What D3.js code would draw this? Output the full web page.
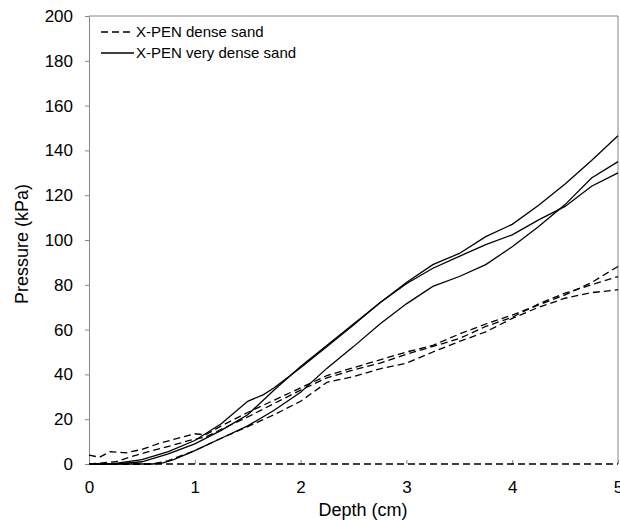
<!DOCTYPE html>
<html>
<head>
<meta charset="utf-8">
<script src="https://cdn.jsdelivr.net/npm/d3@7"></script>
<style>
  html, body { margin: 0; padding: 0; background: #fff; }
  svg { display: block; font-family: "Liberation Sans", Arial, sans-serif; }
</style>
</head>
<body>
<svg id="chart" width="620" height="520"></svg>
<script>
// ---- Data (Depth in cm, Pressure in kPa) ----
const xTicks = [0, 1, 2, 3, 4, 5];
const yTicks = [0, 20, 40, 60, 80, 100, 120, 140, 160, 180, 200];
const legendLabels = ["X-PEN dense sand", "X-PEN very dense sand"];

// Dense sand (dashed)
const dense1 = [[0,4],[0.1,3],[0.2,5.5],[0.35,5],[0.5,6.5],[0.65,9],[0.8,11],[1.0,13.5],[1.1,13],[1.25,17],[1.5,23],[1.75,28.5],[2.0,34],[2.25,39.5],[2.5,43],[2.75,46.5],[3.0,50],[3.25,53],[3.5,58],[3.75,62.5],[4.0,66.5],[4.25,71],[4.5,75.5],[4.75,81],[5.0,88.2]];
const dense2 = [[0,0],[0.25,1],[0.45,4],[0.6,6],[0.8,8.5],[0.95,10.5],[1.1,12],[1.25,15.5],[1.5,21],[1.75,27],[2.0,33],[2.25,38.5],[2.5,42],[2.75,45],[3.0,49],[3.25,52.5],[3.5,56],[3.75,61.4],[4.0,65.5],[4.25,71.5],[4.5,76.3],[4.75,80],[5.0,83.7]];
const dense3 = [[0,0],[0.6,0],[0.75,1.5],[1.0,6],[1.25,11.5],[1.5,16.7],[1.75,22],[2.0,28],[2.25,36.5],[2.5,39],[2.75,42.5],[3.0,45],[3.25,50],[3.5,54.7],[3.75,59],[4.0,65],[4.25,70],[4.5,74],[4.75,76.5],[5.0,77.8]];
const dense4 = [[0,0],[5,0]];

// Very dense sand (solid)
const vdense1 = [[0,0],[0.25,0],[0.5,1],[0.75,4.5],[1.0,9],[1.25,15],[1.5,22],[1.75,33],[2.0,43.5],[2.25,53],[2.5,62.5],[2.75,72],[3.0,81],[3.25,89],[3.5,94],[3.75,101.5],[4.0,107],[4.25,115.5],[4.5,125],[4.75,135.5],[5.0,146.5]];
const vdense2 = [[0,0],[0.25,0.3],[0.5,2],[0.75,5.5],[1.0,10.5],[1.25,18],[1.5,28],[1.65,31],[1.75,34],[2.0,43],[2.25,52.5],[2.5,62],[2.75,72],[3.0,80.5],[3.25,87.4],[3.5,92.7],[3.75,97.9],[4.0,102.3],[4.25,109],[4.5,115],[4.75,124],[5.0,130]];
const vdense3 = [[0,0],[0.6,0],[0.7,0.5],[0.8,2],[1.0,6],[1.25,11.5],[1.5,17],[1.75,24],[2.0,32],[2.25,42.8],[2.5,52.4],[2.75,62.5],[3.0,71.5],[3.25,79.3],[3.5,83.7],[3.75,89],[4.0,97],[4.25,106],[4.5,115.8],[4.75,127.7],[5.0,135]];

const denseSeries = [dense1, dense2, dense3, dense4];
const veryDenseSeries = [vdense1, vdense2, vdense3];

// ---- Layout ----
const svg = d3.select("#chart");
const x = d3.scaleLinear().domain([0, 5]).range([89, 618]);
const y = d3.scaleLinear().domain([0, 200]).range([464, 16]);
const axisColor = "#868686";
const dash = "7,4";

// Frame (top and right)
svg.append("line").attr("x1", x(0)).attr("x2", x(5)).attr("y1", y(200)).attr("y2", y(200))
  .attr("stroke", axisColor).attr("stroke-width", 1);
svg.append("line").attr("x1", x(5)).attr("x2", x(5)).attr("y1", y(200)).attr("y2", y(0))
  .attr("stroke", axisColor).attr("stroke-width", 1);

// Y axis
const yAxis = svg.append("g").attr("transform", `translate(${x(0)},0)`)
  .call(d3.axisLeft(y).tickValues(yTicks).tickSize(4).tickPadding(12).tickSizeOuter(0));
yAxis.select(".domain").attr("stroke", axisColor);
yAxis.selectAll(".tick line").attr("stroke", axisColor);
yAxis.selectAll("text").attr("font-size", 17).attr("fill", "#000")
  .attr("font-family", "Liberation Sans, Arial, sans-serif");

// X axis (ticks inward, domain hidden: the zero series draws the baseline)
const xAxis = svg.append("g").attr("transform", `translate(0,${y(0)})`)
  .call(d3.axisBottom(x).tickValues(xTicks).tickFormat(d3.format("d")).tickSize(-4).tickPadding(17).tickSizeOuter(0));
xAxis.select(".domain").remove();
xAxis.selectAll(".tick line").attr("stroke", axisColor);
xAxis.selectAll("text").attr("font-size", 17).attr("fill", "#000")
  .attr("font-family", "Liberation Sans, Arial, sans-serif");

// Lines
const line = d3.line().x(d => x(d[0])).y(d => y(d[1]));
svg.append("g").selectAll("path").data(denseSeries).join("path")
  .attr("d", line).attr("fill", "none").attr("stroke", "#000")
  .attr("stroke-width", 1.3).attr("stroke-dasharray", dash);
svg.append("g").selectAll("path").data(veryDenseSeries).join("path")
  .attr("d", line).attr("fill", "none").attr("stroke", "#000")
  .attr("stroke-width", 1.3);

// Axis titles
svg.append("text").attr("x", 363).attr("y", 516).attr("text-anchor", "middle")
  .attr("font-size", 18).attr("fill", "#000").text("Depth (cm)");
svg.append("text").attr("transform", "translate(28,244) rotate(-90)").attr("text-anchor", "middle")
  .attr("font-size", 18).attr("fill", "#000").text("Pressure (kPa)");

// Legend
const legend = svg.append("g");
const legendDash = [dash, null];
legendLabels.forEach((lab, i) => {
  const ly = 32 + i * 21;
  legend.append("line").attr("x1", 101).attr("x2", 134).attr("y1", ly).attr("y2", ly)
    .attr("stroke", "#000").attr("stroke-width", 1.3)
    .attr("stroke-dasharray", legendDash[i]);
  legend.append("text").attr("x", 136).attr("y", ly + 5)
    .attr("font-size", 15).attr("fill", "#000").text(lab);
});
</script>
</body>
</html>
